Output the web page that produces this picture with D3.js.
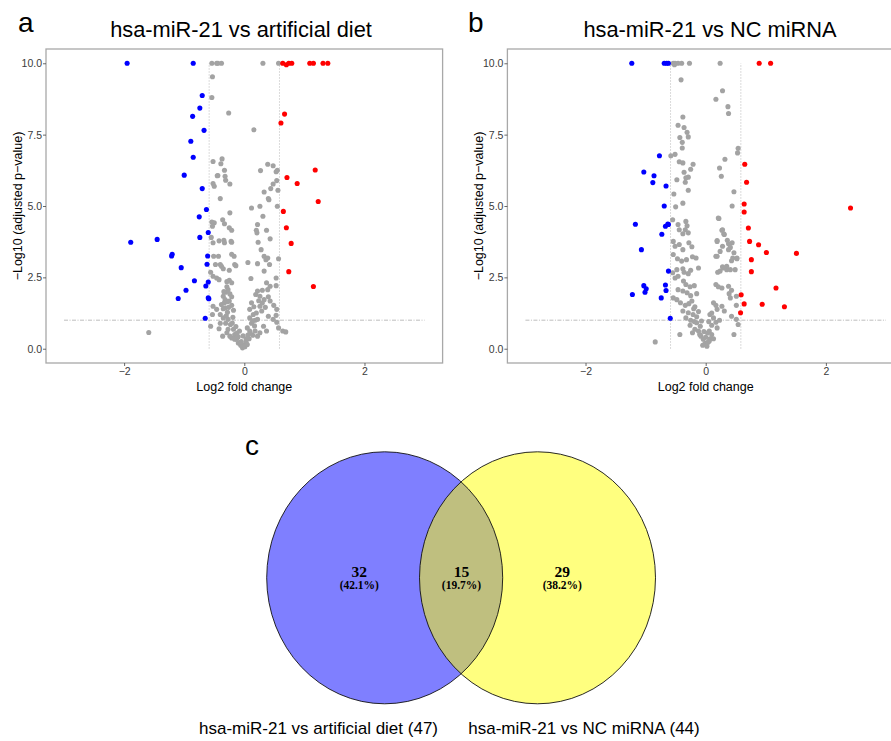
<!DOCTYPE html>
<html>
<head>
<meta charset="utf-8">
<script src="https://cdn.jsdelivr.net/npm/d3@7"></script>
<style>
  body { margin: 0; background: #fff; }
  svg { display: block; }
</style>
</head>
<body>
<svg id="fig"></svg>
<script>
"use strict"

// volcano a: hsa-miR-21 vs artificial diet  [log2FC, -log10 padj]
const aDown = [
  [-1.95, 10], [-0.85, 10], [-0.70, 8.87], [-0.74, 8.43], [-0.86, 8.14], [-0.67, 7.65],
  [-0.89, 7.27], [-0.85, 6.71], [-1.00, 6.08], [-0.70, 5.61], [-0.63, 4.88], [-0.75, 4.62],
  [-0.60, 4.07], [-0.74, 3.90], [-1.89, 3.73], [-1.45, 3.83], [-1.20, 3.31], [-1.21, 3.25],
  [-1.05, 2.84], [-0.61, 3.25], [-0.62, 2.96], [-0.83, 2.38], [-0.60, 2.34], [-0.64, 2.20],
  [-0.97, 2.05], [-1.10, 1.76], [-0.60, 1.78], [-0.59, 1.75], [-0.65, 1.07]
]
const aUp = [
  [0.64, 10], [0.70, 9.95], [0.74, 10], [0.79, 10], [1.09, 10], [1.15, 10], [1.31, 10], [1.39, 10],
  [0.67, 8.22], [0.61, 7.91], [1.18, 6.26], [0.71, 6.00], [0.88, 5.79], [1.23, 5.16],
  [0.65, 4.81], [0.70, 4.24], [0.78, 3.69], [0.74, 2.70], [1.15, 2.18]
]
const aNs = [
  [-0.54, 10], [-0.46, 10], [-0.44, 10], [-0.38, 10], [0.31, 10], [0.57, 10],
  [-0.53, 9.53], [-0.54, 8.80], [-0.26, 8.26], [0.16, 7.67],
  [-0.37, 6.65], [-0.52, 6.56], [-0.39, 6.48], [-0.33, 6.25], [-0.44, 6.07], [-0.45, 6.06],
  [-0.32, 6.04], [-0.31, 5.90], [-0.24, 5.77], [-0.52, 5.79], [-0.50, 5.69],
  [0.39, 6.46], [0.48, 6.41], [0.27, 6.24], [0.55, 6.25], [0.53, 6.20], [0.54, 5.89],
  [0.48, 5.77], [0.44, 5.61], [0.33, 5.49], [0.56, 5.55],
  [-0.40, 5.26], [0.40, 5.26], [-1.59, 0.57], [0.64, 0.62], [0.69, 0.59],
  [-0.24, 4.76], [-0.50, 4.41], [-0.36, 4.52], [-0.33, 4.38], [-0.25, 4.24], [-0.21, 4.15],
  [-0.54, 4.44], [-0.53, 4.29],
  [-0.55, 3.90], [-0.52, 3.71], [-0.42, 3.78], [-0.34, 3.80], [-0.33, 3.71], [-0.22, 3.76],
  [-0.21, 3.73], [-0.51, 3.24], [-0.43, 3.24], [-0.21, 3.31], [-0.17, 3.24], [-0.48, 2.95],
  [-0.40, 2.95], [-0.38, 2.89], [-0.35, 2.80], [-0.25, 2.75], [-0.16, 2.95], [-0.14, 2.91],
  [-0.56, 2.68], [-0.52, 2.54], [-0.46, 2.48], [-0.42, 2.42], [-0.25, 2.40], [-0.21, 2.31],
  [-0.29, 2.17], [-0.27, 2.07], [-0.31, 1.98], [-0.24, 1.92], [-0.35, 1.84], [-0.32, 1.72],
  [-0.21, 1.82], [-0.25, 1.67], [-0.52, 1.49], [-0.46, 1.38], [-0.53, 1.20], [-0.38, 1.55],
  [-0.32, 1.43], [-0.28, 1.28], [-0.21, 1.52], [-0.18, 1.35], [-0.40, 1.20], [-0.35, 1.08],
  [-0.27, 1.03], [-0.31, 0.89], [-0.23, 0.85], [-0.56, 0.79], [-0.40, 0.89], [-0.42, 0.70],
  [-0.36, 0.44], [-0.29, 0.56], [-0.18, 0.68], [-0.16, 0.50], [-0.21, 0.38], [-0.13, 0.33],
  [-0.08, 0.21], [-0.06, 0.12], [-0.03, 0.03], [0.01, 0.07], [0.00, 0.14], [-0.27, 0.68],
  [-0.24, 0.44], [-0.16, 0.33], [-0.10, 0.42], [-0.10, 0.20], [-0.05, 0.25], [-0.12, 0.55],
  [-0.02, 0.45], [-0.20, 0.90], [-0.30, 1.15], [-0.35, 1.40], [-0.28, 1.65], [-0.34, 2.00],
  [-0.19, 1.10], [-0.26, 1.45], [-0.33, 1.62], [-0.14, 0.78], [-0.08, 0.62], [-0.29, 2.35],
  [0.12, 4.93], [0.26, 4.99], [0.41, 5.22], [0.55, 4.99], [0.31, 4.64], [0.22, 4.35],
  [0.21, 4.06], [0.20, 4.15], [0.37, 4.15], [0.23, 3.73], [0.28, 3.47], [0.43, 3.85],
  [0.33, 3.24], [0.36, 3.12], [0.39, 3.18], [0.22, 2.98], [0.42, 2.95], [0.57, 3.15],
  [0.06, 3.02], [0.33, 2.72], [0.53, 2.48], [0.11, 2.46], [0.37, 2.31], [0.43, 2.19],
  [0.39, 2.07], [0.53, 2.21], [0.22, 2.02], [0.19, 1.90], [0.26, 1.84], [0.33, 1.72],
  [0.40, 1.82], [0.43, 1.67], [0.12, 1.61], [0.16, 1.47], [0.09, 1.38], [0.49, 1.52],
  [0.54, 1.38], [0.53, 1.17], [0.26, 1.49], [0.29, 1.32], [0.15, 1.20], [0.09, 1.08],
  [0.18, 1.00], [0.12, 0.89], [0.22, 1.03], [0.40, 1.14], [0.48, 1.03], [0.54, 0.93],
  [0.57, 0.73], [0.32, 0.79], [0.37, 0.62], [0.05, 0.73], [0.09, 0.62], [0.14, 0.47],
  [0.08, 0.35], [0.03, 0.23], [0.05, 0.15], [0.18, 0.62], [0.22, 0.44], [0.26, 0.56],
  [0.03, 0.35], [0.10, 0.55], [0.06, 0.48], [0.17, 0.80], [0.20, 1.25], [0.35, 1.45],
  [0.30, 1.60], [0.30, 2.05], [0.14, 0.98], [0.24, 1.68]
]

// volcano b: hsa-miR-21 vs NC miRNA
const bDown = [
  [-1.23, 10], [-0.69, 10], [-0.65, 10], [-0.62, 10], [-0.77, 6.76], [-1.03, 6.19],
  [-0.86, 6.06], [-0.88, 5.82], [-0.66, 5.70], [-0.69, 5.00], [-1.17, 4.36], [-0.67, 4.29],
  [-0.63, 4.37], [-0.62, 4.35], [-0.73, 4.01], [-1.07, 3.47], [-0.62, 2.72], [-0.67, 2.23],
  [-0.66, 2.04], [-1.03, 2.21], [-0.99, 2.10], [-1.01, 1.98], [-1.22, 1.90], [-0.74, 1.78],
  [-0.59, 1.07]
]
const bUp = [
  [0.89, 10], [1.08, 10], [0.65, 6.46], [0.68, 5.83], [0.64, 5.07], [0.64, 4.79], [2.41, 4.93],
  [0.71, 4.23], [0.73, 3.76], [0.88, 3.64], [1.01, 3.37], [1.51, 3.34], [0.76, 3.12],
  [0.76, 2.70], [1.17, 2.13], [0.59, 1.89], [0.64, 1.57], [0.94, 1.56], [1.31, 1.47], [0.58, 1.26]
]
const bNs = [
  [-0.54, 10], [-0.51, 10], [-0.46, 10], [-0.40, 10], [-0.27, 10], [0.24, 10], [-0.52, 9.95],
  [-0.41, 9.42], [0.28, 9.04], [0.17, 8.74], [0.37, 8.48], [0.38, 8.24], [-0.38, 8.12],
  [-0.46, 7.83], [-0.36, 7.75], [-0.31, 7.58], [-0.29, 7.42], [-0.43, 7.40], [-0.39, 7.23],
  [-0.39, 7.03], [0.54, 7.02], [0.53, 6.86], [-0.51, 6.81], [-0.58, 6.76], [0.32, 6.64],
  [-0.44, 6.55], [-0.38, 6.51], [-0.21, 6.46], [-0.25, 6.29], [0.23, 6.33], [0.26, 6.04],
  [-0.36, 6.18], [-0.29, 6.01], [-0.33, 5.99], [-0.48, 5.92], [-0.34, 5.83], [-0.29, 5.55],
  [0.47, 5.50], [-0.53, 5.42], [-0.38, 5.10], [-0.50, 4.97], [0.44, 5.00], [-0.84, 0.24],
  [-0.43, 0.50], [0.22, 4.56], [0.27, 4.15], [0.30, 4.03], [0.19, 3.79], [0.44, 3.71],
  [0.41, 3.55], [0.47, 3.36], [0.52, 3.18], [0.43, 3.08], [0.17, 3.24], [0.28, 2.87],
  [0.20, 2.68], [0.35, 2.77],
  [-0.55, 4.52], [-0.46, 4.35], [-0.33, 4.46], [-0.31, 4.31], [-0.34, 4.17], [-0.29, 4.06],
  [-0.44, 4.17], [-0.38, 4.03], [-0.54, 3.76], [-0.51, 3.59], [-0.44, 3.65], [-0.38, 3.47],
  [-0.28, 3.71], [-0.23, 3.57], [-0.54, 3.30], [-0.47, 3.15], [-0.40, 3.07], [-0.32, 3.12],
  [-0.22, 3.22], [-0.16, 3.18], [-0.48, 2.77], [-0.38, 2.80], [-0.36, 2.68], [-0.29, 2.63],
  [-0.25, 2.75], [-0.12, 2.83], [-0.55, 2.66], [-0.51, 2.48], [-0.46, 2.54], [-0.37, 2.37],
  [-0.33, 2.25], [-0.26, 2.17], [-0.19, 2.21], [-0.46, 2.07], [-0.38, 2.02], [-0.31, 1.96],
  [-0.25, 1.86], [-0.15, 1.93], [-0.54, 1.78], [-0.48, 1.72], [-0.42, 1.61], [-0.34, 1.52],
  [-0.23, 1.67], [-0.18, 1.47], [-0.38, 1.32], [-0.29, 1.26], [-0.21, 1.20], [-0.33, 1.08],
  [-0.25, 1.00], [-0.15, 1.12], [-0.26, 0.82], [-0.18, 0.68], [-0.22, 0.56], [-0.12, 0.62],
  [-0.08, 0.44], [-0.04, 0.33], [-0.01, 0.19], [0.02, 0.09], [-0.05, 0.12], [0.04, 0.23],
  [0.07, 0.35], [-0.15, 0.91], [-0.09, 0.79], [-0.07, 0.97], [-0.10, 0.50], [0.00, 0.40],
  [-0.03, 0.60], [0.03, 0.55], [-0.20, 1.40], [-0.12, 1.30], [-0.28, 1.58], [-0.19, 0.95],
  [0.21, 4.58], [0.28, 4.17], [0.31, 4.00], [0.36, 3.80], [0.19, 3.76], [0.28, 3.59],
  [0.38, 3.68], [0.24, 3.41], [0.38, 3.47], [0.45, 3.18], [0.52, 3.15], [0.19, 3.24],
  [0.24, 2.72], [0.29, 2.83], [0.35, 2.89], [0.41, 2.77], [0.49, 2.77], [0.17, 2.25],
  [0.21, 2.17], [0.27, 2.13], [0.38, 2.19], [0.43, 2.05], [0.39, 1.93], [0.41, 1.78],
  [0.51, 1.84], [0.51, 1.52], [0.13, 1.61], [0.17, 1.52], [0.19, 1.38], [0.27, 1.49],
  [0.31, 1.32], [0.07, 1.20], [0.13, 1.08], [0.17, 0.93], [0.23, 1.00], [0.10, 0.82],
  [0.19, 0.73], [0.43, 1.14], [0.51, 1.03], [0.54, 0.85], [0.47, 0.50], [0.06, 0.62],
  [0.10, 0.50], [0.13, 0.35], [0.06, 0.27], [0.05, 0.95], [0.10, 1.25]
]

const xTicks = [-2, 0, 2]
const yTicks = [0, 2.5, 5, 7.5, 10]
const fcCut = 0.585   // log2(1.5)
const pCut = 1

// venn c
const vennSets = ["hsa-miR-21 vs artificial diet (47)", "hsa-miR-21 vs NC miRNA (44)"]
const vennCounts = [32, 15, 29]
const vennPct = ["(42.1%)", "(19.7%)", "(38.2%)"]

const W = 891, H = 741
const sans = "'Liberation Sans', Arial, Helvetica, sans-serif"
const svg = d3.select("#fig").attr("width", W).attr("height", H)
svg.append("rect").attr("width", W).attr("height", H).attr("fill", "#fff")

function volcano(o) {
    const x = d3.scaleLinear().domain([-3.3, 3.3]).range([o.left, o.left + 396.6])
    const y = d3.scaleLinear().domain([-0.5, 10.5]).range([363, 49])
    const g = svg.append("g")

    g.append("text").attr("x", o.letterX).attr("y", 32)
        .attr("font-family", sans).attr("font-size", 28).text(o.letter)
    g.append("text").attr("x", o.titleX).attr("y", 37).attr("text-anchor", "middle")
        .attr("font-family", sans).attr("font-size", 21.8).text(o.title)

    // reference lines
    const ref = g.append("g").attr("fill", "none")
    ref.selectAll("line.v").data([-fcCut, fcCut]).join("line")
        .attr("x1", d => x(d)).attr("x2", d => x(d))
        .attr("y1", y(0)).attr("y2", y(10))
        .attr("stroke", "#cfcfcf").attr("stroke-width", 1).attr("stroke-dasharray", "1.5,1.5")
    ref.append("line")
        .attr("x1", x(-3)).attr("x2", x(3)).attr("y1", y(pCut)).attr("y2", y(pCut))
        .attr("stroke", "#bdbdbd").attr("stroke-width", 1).attr("stroke-dasharray", "4,1.5,1,1.5")

    const pts = g.append("g")
    const groups = [[o.ns, "#a3a3a3"], [o.down, "#0000ff"], [o.up, "#ff0000"]]
    groups.forEach(([data, col]) => {
        pts.selectAll(null).data(data).join("circle")
            .attr("cx", d => x(d[0])).attr("cy", d => y(d[1]))
            .attr("r", 2.55).attr("fill", col)
    })

    g.append("rect").attr("x", x.range()[0]).attr("y", 49)
        .attr("width", x.range()[1] - x.range()[0]).attr("height", 314)
        .attr("fill", "none").attr("stroke", "#a8a8a8").attr("stroke-width", 1.3)

    const yAxis = g.append("g").attr("transform", `translate(${x.range()[0]},0)`)
        .call(d3.axisLeft(y).tickValues(yTicks).tickFormat(d3.format(".1f")).tickSize(3).tickPadding(1))
    const xAxis = g.append("g").attr("transform", "translate(0,363)")
        .call(d3.axisBottom(x).tickValues(xTicks).tickFormat(d => d < 0 ? "\u2212" + (-d) : d).tickSize(3).tickPadding(2))
    ;[xAxis, yAxis].forEach(a => {
        a.select(".domain").remove()
        a.selectAll(".tick line").attr("stroke", "#444").attr("stroke-width", 0.8)
        a.selectAll(".tick text").attr("fill", "#3a3a3a").attr("font-size", 10.5).attr("font-family", sans)
    })

    g.append("text").attr("x", (x.range()[0] + x.range()[1]) / 2).attr("y", 391)
        .attr("text-anchor", "middle").attr("font-family", sans).attr("font-size", 12.5)
        .text("Log2 fold change")
    g.append("text").attr("transform", `translate(${o.yLabX},206) rotate(-90)`)
        .attr("text-anchor", "middle").attr("font-family", sans).attr("font-size", 12.5)
        .text("\u2212Log10 (adjusted p\u2212value)")
}

volcano({ left: 46, letter: "a", letterX: 18, title: "hsa-miR-21 vs artificial diet", titleX: 241,
    yLabX: 22, down: aDown, up: aUp, ns: aNs })
volcano({ left: 507.4, letter: "b", letterX: 468, title: "hsa-miR-21 vs NC miRNA", titleX: 710,
    yLabX: 483, down: bDown, up: bUp, ns: bNs })

// venn
const venn = svg.append("g")
const circles = [{ cx: 384.7, fill: "blue" }, { cx: 537.5, fill: "yellow" }]
venn.selectAll("ellipse.fill").data(circles).join("ellipse")
    .attr("cx", d => d.cx).attr("cy", 577.8).attr("rx", 118).attr("ry", 126)
    .attr("fill", d => d.fill).attr("fill-opacity", 0.5)
venn.selectAll("ellipse.edge").data(circles).join("ellipse")
    .attr("cx", d => d.cx).attr("cy", 577.8).attr("rx", 118).attr("ry", 126)
    .attr("fill", "none").attr("stroke", "#111").attr("stroke-width", 0.9)

const regionX = [359.3, 461.5, 562.3]
const serif = "'Liberation Serif', 'Times New Roman', serif"
vennCounts.forEach((c, i) => {
    venn.append("text").attr("x", regionX[i]).attr("y", 576.5).attr("text-anchor", "middle")
        .attr("font-family", serif).attr("font-weight", "bold").attr("font-size", 15.5).text(c)
    venn.append("text").attr("x", regionX[i]).attr("y", 589).attr("text-anchor", "middle")
        .attr("font-family", serif).attr("font-weight", "bold").attr("font-size", 11.5).text(vennPct[i])
})
venn.append("text").attr("x", 245).attr("y", 455).attr("font-family", sans).attr("font-size", 28).text("c")
venn.selectAll("text.set").data(vennSets).join("text")
    .attr("x", (d, i) => [318.5, 584][i]).attr("y", 733.5).attr("text-anchor", "middle")
    .attr("font-family", sans).attr("font-size", 17).text(d => d)
</script>
</body>
</html>
